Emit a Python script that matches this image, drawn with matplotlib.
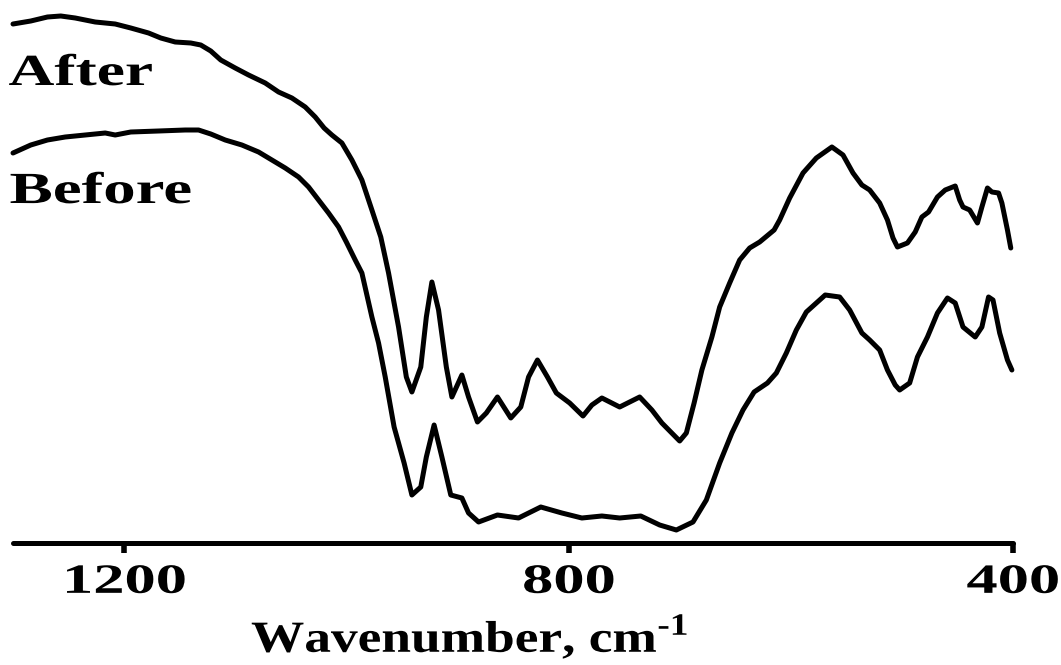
import matplotlib
matplotlib.use('Agg')
from matplotlib import pyplot as plt
from matplotlib import patheffects
from matplotlib.transforms import Affine2D

# FTIR spectra, wavenumber in cm-1 and transmittance in arbitrary units
after_wn = [1300, 1284, 1269, 1257, 1244, 1226, 1208, 1194, 1178, 1167, 1154,
            1140, 1131, 1122, 1113, 1100, 1088, 1073, 1061, 1049, 1037, 1028,
            1020, 1013, 1004, 995, 986, 977, 969, 962, 953, 946, 941, 933,
            928, 923, 917, 910, 905, 896, 890, 882, 874, 864, 852, 843, 836,
            828, 819, 811, 799, 787, 779, 770, 754, 736, 725, 716, 700, 694,
            687, 680, 671, 664, 655, 646, 637, 628, 615, 610, 601, 589, 577,
            563, 553, 544, 536, 529, 520, 513, 508, 504, 495, 488, 482, 476,
            468, 461, 452, 448, 445, 439, 432, 428, 423, 419, 413, 410, 405,
            402]
after_t = [519, 522, 526, 527, 525, 521, 519, 515, 510, 505, 501,
           500, 498, 492, 483, 475, 468, 460, 451, 445, 436, 426,
           415, 408, 400, 383, 363, 333, 306, 270, 216, 166, 151, 176,
           226, 261, 233, 176, 146, 168, 146, 121, 130, 146, 125, 136, 166,
           183, 166, 150, 140, 127, 138, 145, 136, 146, 133, 120, 102, 110,
           140, 173, 206, 236, 260, 283, 295, 301, 313, 323, 345, 370, 385,
           396, 388, 370, 358, 353, 340, 323, 305, 296, 300, 311, 326, 331,
           346, 353, 357, 343, 336, 333, 320, 336, 355, 351, 350, 340, 313,
           295]

before_wn = [1300, 1284, 1269, 1253, 1235, 1217, 1208, 1194, 1169, 1145, 1133,
             1122, 1109, 1094, 1079, 1067, 1055, 1043, 1034, 1025, 1016, 1007,
             1000, 992, 986, 977, 971, 965, 957, 948, 941, 933, 928, 921, 914,
             906, 896, 890, 881, 864, 845, 825, 806, 788, 770, 754, 735, 718,
             703, 688, 676, 664, 653, 643, 633, 621, 613, 604, 595, 586, 569,
             556, 547, 536, 529, 520, 513, 506, 502, 493, 486, 477, 468, 459,
             452, 445, 434, 428, 422, 418, 412, 405, 401]
before_t = [390, 398, 403, 406, 408, 410, 408, 411, 412, 413, 413,
            409, 403, 398, 391, 383, 375, 366, 356, 343, 330, 316,
            301, 283, 270, 226, 200, 166, 116, 80, 48, 56, 86, 118, 86,
            48, 45, 30, 21, 28, 25, 36, 30, 25, 27, 25, 27, 18,
            13, 21, 43, 80, 110, 133, 151, 160, 170, 190, 213, 231, 248,
            246, 233, 210, 203, 193, 173, 158, 153, 160, 186, 206, 230, 245,
            240, 216, 206, 216, 246, 243, 210, 183, 173]

tick_values = [1200, 800, 400]
tick_labels = ['1200', '800', '400']


class HStretch(patheffects.AbstractPathEffect):
    """Widen a text path horizontally about its own centre."""
    def __init__(self, sx):
        super().__init__()
        self.sx = sx

    def draw_path(self, renderer, gc, tpath, affine, rgbFace=None):
        xs = tpath.vertices[:, 0]
        cx = (xs.min() + xs.max()) / 2 if len(xs) else 0
        stretch = Affine2D().translate(-cx, 0).scale(self.sx, 1).translate(cx, 0)
        renderer.draw_path(gc, tpath, stretch + affine, rgbFace)


plt.rcParams['font.family'] = ['Liberation Serif', 'DejaVu Serif']
plt.rcParams['font.weight'] = 'bold'
plt.rcParams['mathtext.fontset'] = 'custom'
plt.rcParams['mathtext.rm'] = 'Liberation Serif:bold'
plt.rcParams['mathtext.bf'] = 'Liberation Serif:bold'

W, H = 1061, 665
fig = plt.figure(figsize=(W / 100, H / 100), dpi=100)
ax = fig.add_axes([13 / W, 122 / H, 1000 / W, 543 / H])

for wn, t in [(after_wn, after_t), (before_wn, before_t)]:
    ax.plot(wn, t, color='black', lw=3.6, solid_joinstyle='round',
            solid_capstyle='round', clip_on=False)

ax.set_xlim(1300, 400)
ax.set_ylim(0, 543)

for side in ['left', 'top', 'right']:
    ax.spines[side].set_visible(False)
ax.spines['bottom'].set_linewidth(3.6)
ax.spines['bottom'].set_capstyle('round')
ax.set_yticks([])
ax.set_xticks(tick_values)
ax.set_xticklabels(tick_labels, fontsize=30, fontweight='bold')
ax.tick_params(axis='x', direction='out', length=7, width=4, pad=8)
for lbl in ax.get_xticklabels():
    lbl.set_path_effects([HStretch(1.5)])

ax.text(1239, 458, 'After', fontsize=32, fontweight='bold', ha='center',
        va='baseline', path_effects=[HStretch(1.43)])
ax.text(1221, 340, 'Before', fontsize=32, fontweight='bold', ha='center',
        va='baseline', path_effects=[HStretch(1.46)])

fig.text(470 / W, 13 / H, r'Wavenumber, cm$^{\text{-1}}$', fontsize=32,
         fontweight='bold', ha='center', va='baseline',
         path_effects=[HStretch(1.2)])

fig.savefig('out.png', dpi=100)
